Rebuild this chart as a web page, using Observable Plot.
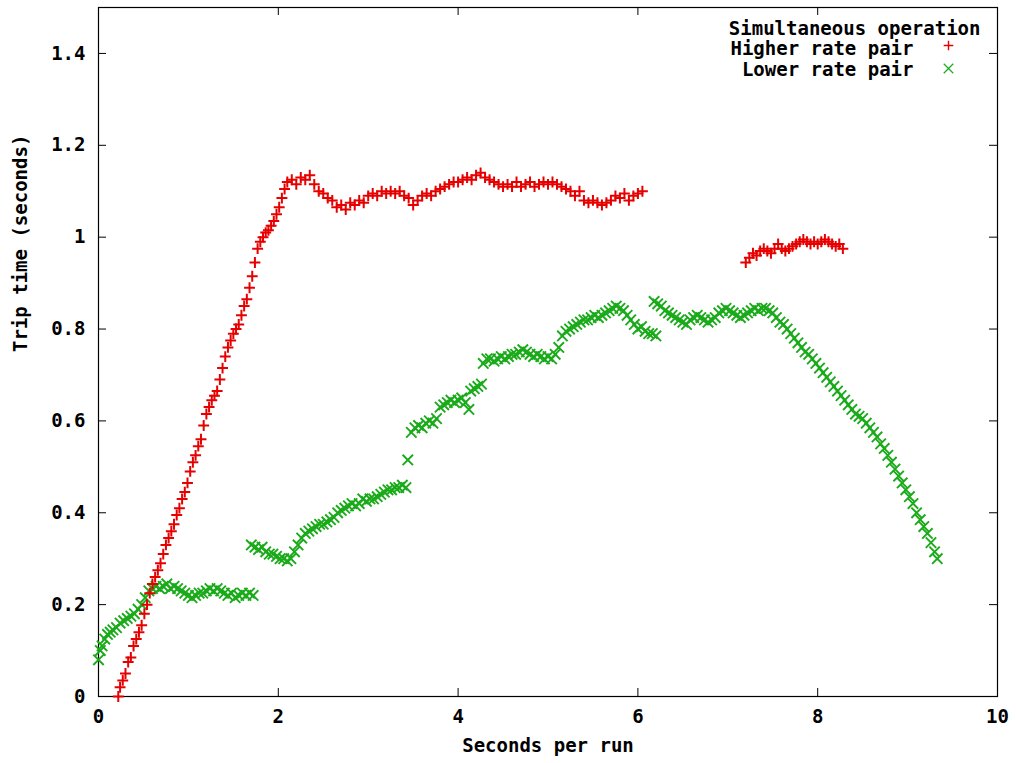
<!DOCTYPE html>
<html><head><meta charset="utf-8">
<script src="https://cdn.jsdelivr.net/npm/d3@7"></script>
<script src="https://cdn.jsdelivr.net/npm/@observablehq/plot@0.6"></script>
<style>body{margin:0;background:#fff}</style>
</head><body><div id="chart"></div>
<script>
const xTicks = [0, 2, 4, 6, 8, 10];
const xTickLabels = ["0", "2", "4", "6", "8", "10"];
const yTicks = [0, 0.2, 0.4, 0.6, 0.8, 1, 1.2, 1.4];
const yTickLabels = ["0", "0.2", "0.4", "0.6", "0.8", "1", "1.2", "1.4"];
const legendTitle = "Simultaneous operation";
const seriesNames = ["Higher rate pair", "Lower rate pair"];
const xLabel = "Seconds per run";
const yLabel = "Trip time (seconds)";

// Higher rate pair: [seconds, trip time]
const higherRate = [
[0.22,0.00],[0.24,0.02],[0.27,0.035],[0.30,0.05],[0.33,0.075],[0.36,0.085],[0.39,0.11],[0.42,0.125],[0.45,0.14],[0.48,0.155],
[0.51,0.18],[0.54,0.20],[0.57,0.225],[0.60,0.245],[0.63,0.26],[0.66,0.275],[0.69,0.29],[0.72,0.31],[0.75,0.33],[0.78,0.345],
[0.81,0.36],[0.84,0.375],[0.87,0.395],[0.90,0.41],[0.93,0.43],[0.96,0.445],[0.99,0.465],[1.02,0.49],[1.05,0.51],[1.08,0.525],
[1.11,0.545],[1.14,0.56],[1.17,0.59],[1.20,0.615],[1.23,0.63],[1.26,0.645],[1.29,0.655],[1.32,0.665],[1.35,0.69],[1.38,0.715],
[1.41,0.74],[1.44,0.76],[1.47,0.775],[1.50,0.79],[1.53,0.80],[1.56,0.81],[1.59,0.83],[1.62,0.85],[1.65,0.865],[1.68,0.89],
[1.71,0.915],[1.74,0.945],[1.77,0.975],[1.80,0.99],[1.83,1.00],[1.86,1.01],[1.89,1.015],[1.92,1.025],[1.95,1.035],[1.98,1.05],
[2.01,1.065],[2.04,1.085],[2.07,1.105],[2.10,1.12],
[2.15,1.125],[2.20,1.115],[2.25,1.13],[2.30,1.125],[2.35,1.135],[2.40,1.115],[2.45,1.10],[2.50,1.095],[2.55,1.085],[2.60,1.08],
[2.65,1.065],[2.70,1.07],[2.75,1.06],[2.80,1.075],[2.85,1.07],[2.90,1.08],[2.95,1.075],[3.00,1.09],[3.05,1.095],[3.10,1.09],
[3.15,1.10],[3.20,1.095],[3.25,1.10],[3.30,1.095],[3.35,1.10],[3.40,1.09],[3.45,1.085],[3.50,1.07],[3.55,1.08],[3.60,1.09],
[3.65,1.095],[3.70,1.09],[3.75,1.10],[3.80,1.105],[3.85,1.11],[3.90,1.115],[3.95,1.12],[4.00,1.12],[4.05,1.125],[4.10,1.13],
[4.15,1.125],[4.20,1.135],[4.25,1.14],[4.30,1.13],[4.35,1.125],[4.40,1.12],[4.45,1.115],[4.50,1.11],[4.55,1.115],[4.60,1.11],
[4.65,1.12],[4.70,1.11],[4.75,1.115],[4.80,1.12],[4.85,1.11],[4.90,1.115],[4.95,1.12],[5.00,1.115],[5.05,1.12],[5.10,1.115],
[5.15,1.11],[5.20,1.105],[5.25,1.10],[5.30,1.09],[5.35,1.10],[5.40,1.08],[5.45,1.075],[5.50,1.08],[5.55,1.075],[5.60,1.07],
[5.65,1.075],[5.70,1.08],[5.75,1.09],[5.80,1.085],[5.85,1.095],[5.90,1.08],[5.95,1.09],[6.00,1.095],[6.05,1.10],
[7.20,0.945],[7.24,0.955],[7.28,0.965],[7.32,0.96],[7.36,0.97],[7.40,0.975],[7.44,0.97],[7.48,0.965],[7.52,0.975],[7.56,0.985],
[7.60,0.975],[7.64,0.97],[7.68,0.975],[7.72,0.98],[7.76,0.985],[7.80,0.99],[7.84,0.995],[7.88,0.99],[7.92,0.985],[7.96,0.99],
[8.00,0.985],[8.04,0.99],[8.08,0.995],[8.12,0.99],[8.16,0.985],[8.20,0.98],[8.24,0.985],[8.28,0.975]
];

// Lower rate pair: [seconds, trip time]
const lowerRate = [
[0.00,0.08],[0.02,0.10],[0.04,0.11],[0.07,0.125],[0.10,0.135],[0.13,0.14],[0.16,0.145],[0.20,0.15],[0.24,0.16],[0.28,0.165],
[0.32,0.17],[0.36,0.175],[0.40,0.18],[0.44,0.19],[0.48,0.20],[0.52,0.215],[0.56,0.23],[0.60,0.235],[0.64,0.24],[0.68,0.235],
[0.72,0.24],[0.76,0.245],[0.80,0.235],[0.84,0.24],[0.88,0.235],[0.92,0.23],[0.96,0.225],[1.00,0.22],[1.04,0.215],[1.08,0.22],
[1.12,0.225],[1.16,0.225],[1.20,0.23],[1.24,0.235],[1.28,0.23],[1.32,0.235],[1.36,0.23],[1.40,0.225],[1.44,0.22],[1.48,0.225],
[1.52,0.215],[1.56,0.22],[1.60,0.225],[1.64,0.22],[1.68,0.225],[1.72,0.22],
[1.70,0.33],[1.74,0.325],[1.78,0.32],[1.82,0.325],[1.86,0.315],[1.90,0.31],[1.94,0.31],[1.98,0.305],[2.02,0.30],[2.06,0.30],
[2.10,0.295],[2.14,0.30],[2.18,0.315],[2.22,0.33],[2.26,0.345],[2.30,0.355],[2.34,0.36],[2.38,0.365],[2.42,0.37],[2.46,0.375],
[2.50,0.375],[2.54,0.38],[2.58,0.385],[2.62,0.39],[2.66,0.40],[2.70,0.405],[2.74,0.41],[2.78,0.415],[2.82,0.42],[2.86,0.415],
[2.90,0.42],[2.94,0.43],[2.98,0.425],[3.02,0.43],[3.06,0.43],[3.10,0.435],[3.14,0.44],[3.18,0.445],[3.22,0.45],[3.26,0.45],
[3.30,0.455],[3.34,0.455],[3.38,0.46],[3.42,0.455],
[3.44,0.515],
[3.48,0.575],[3.52,0.585],[3.56,0.59],[3.60,0.585],[3.64,0.595],[3.68,0.60],[3.72,0.595],[3.76,0.605],
[3.80,0.63],[3.84,0.635],[3.88,0.64],[3.92,0.645],[3.96,0.64],[4.00,0.645],[4.04,0.65],[4.08,0.64],[4.12,0.625],
[4.14,0.665],[4.18,0.67],[4.22,0.675],[4.26,0.68],
[4.28,0.725],[4.32,0.735],[4.36,0.735],[4.40,0.73],[4.44,0.735],[4.48,0.74],[4.52,0.735],[4.56,0.74],[4.60,0.745],[4.64,0.745],
[4.68,0.75],[4.72,0.755],[4.76,0.75],[4.80,0.745],[4.84,0.74],[4.88,0.745],[4.92,0.74],[4.96,0.735],[5.00,0.74],[5.04,0.735],
[5.08,0.745],[5.12,0.76],
[5.16,0.785],[5.20,0.795],[5.24,0.80],[5.28,0.805],[5.32,0.81],[5.36,0.815],[5.40,0.82],[5.44,0.82],[5.48,0.825],[5.52,0.83],
[5.56,0.825],[5.60,0.83],[5.64,0.835],[5.68,0.84],[5.72,0.845],[5.76,0.85],[5.80,0.845],[5.84,0.84],[5.88,0.83],[5.92,0.82],
[5.96,0.81],[6.00,0.80],[6.04,0.805],[6.08,0.795],[6.12,0.79],[6.16,0.79],[6.20,0.785],
[6.18,0.86],[6.22,0.855],[6.26,0.85],[6.30,0.84],[6.34,0.835],[6.38,0.83],[6.42,0.825],[6.46,0.82],[6.50,0.815],[6.54,0.81],
[6.58,0.82],[6.62,0.825],[6.66,0.83],[6.70,0.825],[6.74,0.82],[6.78,0.815],[6.82,0.82],[6.86,0.825],[6.90,0.835],[6.94,0.84],
[6.98,0.845],[7.02,0.84],[7.06,0.835],[7.10,0.83],[7.14,0.825],[7.18,0.83],[7.22,0.835],[7.26,0.84],[7.30,0.845],[7.34,0.84],
[7.38,0.845],[7.42,0.845],[7.46,0.84],[7.50,0.835],[7.54,0.825],[7.58,0.815],[7.62,0.81],[7.66,0.80],[7.70,0.79],[7.74,0.78],
[7.78,0.77],[7.82,0.76],[7.86,0.75],[7.90,0.745],[7.94,0.735],[7.98,0.725],[8.02,0.715],[8.06,0.705],[8.10,0.695],[8.14,0.685],
[8.18,0.675],[8.22,0.665],[8.26,0.655],[8.30,0.645],[8.34,0.635],[8.38,0.625],[8.42,0.615],[8.46,0.61],[8.50,0.605],[8.54,0.595],
[8.58,0.585],[8.62,0.575],[8.66,0.565],[8.70,0.55],[8.74,0.54],[8.78,0.525],[8.82,0.51],[8.86,0.495],[8.90,0.48],[8.94,0.465],
[8.98,0.45],[9.02,0.435],[9.06,0.42],[9.10,0.40],[9.14,0.385],[9.18,0.37],[9.22,0.355],[9.26,0.335],[9.30,0.315],[9.33,0.30]
];

const red = "#e60000";
const green = "#1aaa1a";
const W = 1016, H = 763, mL = 98, mR = 19, mT = 7, mB = 67;
const plotW = W - mL - mR, plotH = H - mT - mB;
const tickLen = 8;

const chart = Plot.plot({
  width: W, height: H,
  marginLeft: mL, marginRight: mR, marginTop: mT, marginBottom: mB,
  style: {fontFamily: "'DejaVu Sans Mono', monospace", fontSize: "19px", fontWeight: "bold", background: "#fff", color: "#000"},
  x: {domain: [0, 10], ticks: xTicks, tickFormat: d => xTickLabels[xTicks.indexOf(d)], tickSize: 0, tickPadding: 13, label: null},
  y: {domain: [0, 1.5], ticks: yTicks, tickFormat: d => yTickLabels[yTicks.indexOf(d)], tickSize: 0, tickPadding: 13, label: null},
  marks: [
    Plot.tickX(xTicks, {x: d => d, insetTop: plotH - tickLen, stroke: "#000"}),
    Plot.tickX(xTicks, {x: d => d, insetBottom: plotH - tickLen, stroke: "#000"}),
    Plot.tickY(yTicks, {y: d => d, insetRight: plotW - tickLen, stroke: "#000"}),
    Plot.tickY(yTicks, {y: d => d, insetLeft: plotW - tickLen, stroke: "#000"}),
    Plot.frame({stroke: "#000", strokeWidth: 1.2}),
    Plot.dot(lowerRate, {x: d => d[0], y: d => d[1], symbol: "times", r: 4.8, stroke: green, fill: "none", strokeWidth: 1.9}),
    Plot.dot(higherRate, {x: d => d[0], y: d => d[1], symbol: "plus", r: 3.6, stroke: red, fill: "none", strokeWidth: 2}),
    Plot.text([legendTitle], {text: d => d, frameAnchor: "top-right", dx: -17, dy: 14, textAnchor: "end"}),
    Plot.text([seriesNames[0]], {text: d => d, frameAnchor: "top-right", dx: -84, dy: 34, textAnchor: "end"}),
    Plot.text([seriesNames[1]], {text: d => d, frameAnchor: "top-right", dx: -84, dy: 55, textAnchor: "end"}),
    Plot.dot([seriesNames[0]], {frameAnchor: "top-right", dx: -49, dy: 38, symbol: "plus", r: 3.2, stroke: red, fill: "none", strokeWidth: 1.4}),
    Plot.dot([seriesNames[1]], {frameAnchor: "top-right", dx: -49, dy: 61, symbol: "times", r: 4.4, stroke: green, fill: "none", strokeWidth: 1.2}),
    Plot.text([xLabel], {text: d => d, frameAnchor: "bottom", dy: 55}),
    Plot.text([yLabel], {text: d => d, frameAnchor: "left", dx: -78, rotate: -90})
  ]
});
document.getElementById("chart").append(chart);
</script>
</body></html>
